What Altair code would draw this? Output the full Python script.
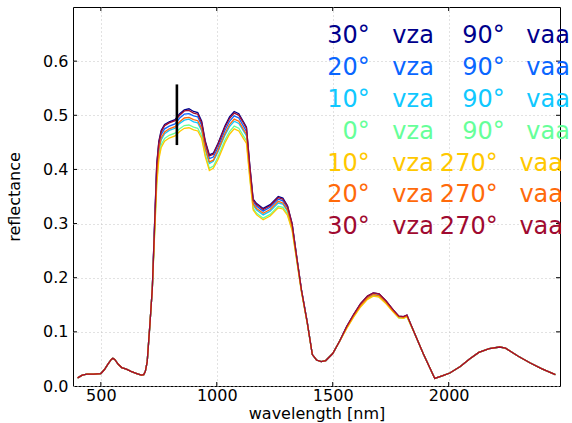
import altair as alt
import pandas as pd

# Wavelength grid shared by every spectrum [nm]
wavelength = [
    400, 420, 440, 470, 500, 515, 530, 545, 552, 560, 575, 590, 610, 630, 655, 675, 685, 692, 700, 712, 722,
    731, 741, 750, 760, 775, 795, 820, 840, 860, 880, 900, 918, 935, 950, 968, 985, 1005, 1035, 1055, 1075,
    1095, 1115, 1128, 1143, 1157, 1172, 1200, 1230, 1265, 1285, 1305, 1325, 1345, 1365, 1390,
    1412, 1430, 1450, 1470, 1500, 1530,
    1560, 1590, 1620, 1650, 1675, 1700, 1730, 1760, 1785, 1805, 1820,
    1850, 1890, 1940, 1975, 2005, 2050, 2090, 2130, 2175, 2220, 2245, 2300, 2350, 2400, 2460,
]

# Reflectance spectra, one per viewing geometry
refl_30_90 = [
    .015, .020, .022, .022, .023, .030, .040, .049, .051, .049, .040, .034, .031, .027, .023, .020, .021, .027, .045, .116, .180,
    .290, .410, .452, .472, .483, .488, .492, .503, .510, .512, .507, .505, .489, .453, .427, .430, .448, .480, .497, .507,
    .503, .488, .478, .405, .345, .337, .328, .335, .350, .347, .333, .300, .238, .178, .118,
    .058, .048, .045, .047, .060, .083,
    .110, .132, .152, .166, .172, .170, .157, .141, .129, .128, .131,
    .100, .060, .014, .019, .024, .036, .050, .062, .069, .072, .070, .055, .043, .032, .021,
]
refl_20_90 = [
    .015, .020, .022, .022, .023, .030, .040, .049, .051, .049, .040, .034, .031, .027, .023, .020, .021, .027, .045, .116, .180,
    .285, .400, .444, .464, .475, .480, .484, .495, .502, .503, .499, .497, .481, .446, .420, .423, .440, .472, .489, .499,
    .495, .480, .470, .399, .340, .332, .323, .330, .345, .342, .329, .297, .236, .177, .118,
    .058, .048, .045, .047, .060, .083,
    .109, .131, .151, .165, .171, .169, .156, .140, .128, .127, .130,
    .100, .060, .014, .019, .024, .036, .050, .062, .069, .072, .070, .055, .043, .032, .021,
]
refl_10_90 = [
    .015, .020, .022, .022, .023, .030, .040, .049, .051, .049, .040, .034, .031, .027, .023, .020, .021, .027, .045, .116, .180,
    .279, .388, .433, .454, .466, .472, .476, .485, .491, .493, .488, .486, .471, .437, .411, .415, .432, .463, .479, .489,
    .485, .471, .462, .391, .334, .325, .316, .323, .338, .336, .323, .293, .234, .176, .117,
    .058, .048, .045, .047, .060, .083,
    .108, .129, .149, .163, .169, .167, .154, .139, .127, .126, .129,
    .100, .060, .014, .019, .024, .036, .050, .062, .069, .072, .070, .055, .043, .032, .021,
]
refl_0_90 = [
    .015, .020, .022, .022, .023, .030, .040, .049, .051, .049, .040, .034, .031, .027, .023, .020, .021, .027, .045, .116, .180,
    .273, .376, .423, .445, .457, .463, .467, .475, .481, .482, .478, .476, .462, .428, .402, .406, .423, .454, .470, .480,
    .476, .462, .453, .384, .328, .319, .310, .317, .332, .330, .318, .289, .232, .175, .116,
    .058, .048, .045, .047, .060, .083,
    .107, .128, .147, .161, .167, .165, .153, .138, .126, .125, .128,
    .100, .060, .014, .019, .024, .036, .050, .062, .069, .072, .070, .055, .043, .032, .021,
]
refl_10_270 = [
    .015, .020, .022, .022, .023, .030, .040, .049, .051, .049, .040, .034, .031, .027, .023, .020, .021, .027, .045, .116, .180,
    .270, .370, .418, .440, .452, .458, .462, .470, .476, .477, .473, .471, .457, .424, .398, .402, .418, .449, .465, .475,
    .471, .457, .448, .380, .325, .316, .307, .314, .329, .327, .315, .287, .231, .174, .116,
    .058, .048, .045, .047, .060, .083,
    .106, .127, .146, .160, .166, .164, .152, .137, .126, .125, .128,
    .100, .060, .014, .019, .024, .036, .050, .062, .069, .072, .070, .055, .043, .032, .021,
]
refl_20_270 = [
    .015, .020, .022, .022, .023, .030, .040, .049, .051, .049, .040, .034, .031, .027, .023, .020, .021, .027, .045, .116, .180,
    .281, .392, .437, .458, .469, .475, .479, .488, .495, .496, .492, .490, .475, .440, .414, .417, .435, .466, .483, .493,
    .489, .474, .465, .394, .336, .328, .319, .326, .341, .338, .325, .294, .235, .176, .117,
    .058, .048, .045, .047, .060, .083,
    .108, .130, .149, .163, .169, .167, .155, .139, .128, .127, .130,
    .100, .060, .014, .019, .024, .036, .050, .062, .069, .072, .070, .055, .043, .032, .021,
]
refl_30_270 = [
    .015, .020, .022, .022, .023, .030, .040, .049, .051, .049, .040, .034, .031, .027, .023, .020, .021, .027, .045, .116, .180,
    .288, .407, .449, .469, .481, .486, .490, .500, .508, .509, .504, .502, .486, .451, .425, .428, .446, .478, .494, .504,
    .500, .486, .476, .403, .343, .335, .326, .333, .348, .345, .332, .299, .237, .178, .118,
    .058, .048, .045, .047, .060, .083,
    .110, .132, .152, .166, .172, .170, .157, .141, .129, .128, .131,
    .100, .060, .014, .019, .024, .036, .050, .062, .069, .072, .070, .055, .043, .032, .021,
]

spectra = [refl_30_90, refl_20_90, refl_10_90, refl_0_90, refl_10_270, refl_20_270, refl_30_270]
vza = [30, 20, 10, 0, 10, 20, 30]
vaa = [90, 90, 90, 90, 270, 270, 270]
colors = ["#00008c", "#0a66ff", "#10c8ff", "#66ff99", "#ffc800", "#ff6a0a", "#a00a30"]

# Vertical bar at the red-edge shoulder
bar_wavelength = [828]
bar_low = [0.445]
bar_high = [0.557]

x_ticks = [500, 1000, 1500, 2000]
y_ticks = [0.0, 0.1, 0.2, 0.3, 0.4, 0.5, 0.6]

X_MIN, X_MAX = 380, 2480
Y_MIN, Y_MAX = 0.0, 0.7
W, H = 487, 379
FONT = "DejaVu Sans"

xscale = alt.Scale(domain=[X_MIN, X_MAX], nice=False, zero=False)
yscale = alt.Scale(domain=[Y_MIN, Y_MAX], nice=False, zero=False)

axis_style = dict(grid=True, gridColor="#c4c4c4", gridDash=[1, 3], gridWidth=1,
                  ticks=False, tickSize=0, domain=False, labelFlush=False, labelOverlap=False,
                  labelFont=FONT, titleFont=FONT, labelFontSize=16, titleFontSize=16,
                  titleFontWeight="normal", labelColor="black", titleColor="black")

x_axis = alt.Axis(values=x_ticks, format="d", title="wavelength [nm]", labelPadding=1,
                  titleBaseline="alphabetic", titleY=32, **axis_style)
y_axis = alt.Axis(values=y_ticks, format=".1f", title="reflectance", labelPadding=5, titlePadding=20, **axis_style)


def xenc(field):
    return alt.X(field, type="quantitative", scale=xscale, axis=x_axis)


def yenc(field):
    return alt.Y(field, type="quantitative", scale=yscale, axis=y_axis)


layers = []

# Spectra, drawn in order so later geometries sit on top
for vals, c in zip(spectra, colors):
    df = pd.DataFrame({"wavelength": wavelength, "reflectance": vals})
    layers.append(
        alt.Chart(df).mark_line(color=c, strokeWidth=1.3).encode(x=xenc("wavelength"), y=yenc("reflectance"))
    )

# Inward tick marks on all four sides of the frame
tick_len_y = 4 / H * (Y_MAX - Y_MIN)
tick_len_x = 4 / W * (X_MAX - X_MIN)
ticks_h = pd.DataFrame({
    "wavelength": x_ticks * 2,
    "reflectance": [Y_MIN] * len(x_ticks) + [Y_MAX - tick_len_y] * len(x_ticks),
    "r2": [Y_MIN + tick_len_y] * len(x_ticks) + [Y_MAX] * len(x_ticks),
})
ticks_v = pd.DataFrame({
    "reflectance": y_ticks[1:] * 2,
    "wavelength": [X_MIN] * (len(y_ticks) - 1) + [X_MAX - tick_len_x] * (len(y_ticks) - 1),
    "w2": [X_MIN + tick_len_x] * (len(y_ticks) - 1) + [X_MAX] * (len(y_ticks) - 1),
})
layers.append(alt.Chart(ticks_h).mark_rule(color="black", strokeWidth=1).encode(
    x=xenc("wavelength"), y=yenc("reflectance"), y2="r2:Q"))
layers.append(alt.Chart(ticks_v).mark_rule(color="black", strokeWidth=1).encode(
    y=yenc("reflectance"), x=xenc("wavelength"), x2="w2:Q"))

# Black vertical bar
bar_df = pd.DataFrame({"wavelength": bar_wavelength, "reflectance": bar_low, "hi": bar_high})
layers.append(alt.Chart(bar_df).mark_rule(color="black", strokeWidth=2.6).encode(
    x=xenc("wavelength"), y=yenc("reflectance"), y2="hi:Q"))

# Coloured text legend in the upper right
rows = []
for i, (za, aa, c) in enumerate(zip(vza, vaa, colors)):
    yb = 0.634 - i * 0.059
    three = aa >= 100
    rows.append({"wavelength": 1660, "reflectance": yb, "t": f"{za}\u00b0", "c": c, "a": "right"})
    rows.append({"wavelength": 1757, "reflectance": yb, "t": "vza", "c": c, "a": "left"})
    rows.append({"wavelength": 1962 if three else 2058, "reflectance": yb, "t": f"{aa}\u00b0", "c": c, "a": "left"})
    rows.append({"wavelength": 2305 if three else 2335, "reflectance": yb, "t": "vaa", "c": c, "a": "left"})
leg = pd.DataFrame(rows)
for align in ["right", "left"]:
    layers.append(
        alt.Chart(leg[leg["a"] == align]).mark_text(
            align=align, baseline="alphabetic", font=FONT, fontSize=24
        ).encode(
            x=xenc("wavelength"),
            y=yenc("reflectance"),
            text="t:N",
            color=alt.Color("c:N", scale=None),
        )
    )

chart = alt.layer(*layers).properties(
    width=W, height=H,
    autosize=alt.AutoSizeParams(type="none"),
    padding={"left": 73, "top": 7, "right": 12, "bottom": 37},
    background="white",
).configure_view(stroke="black", strokeWidth=1)

chart.save("out.html", embed_options={"renderer": "svg", "actions": False})
